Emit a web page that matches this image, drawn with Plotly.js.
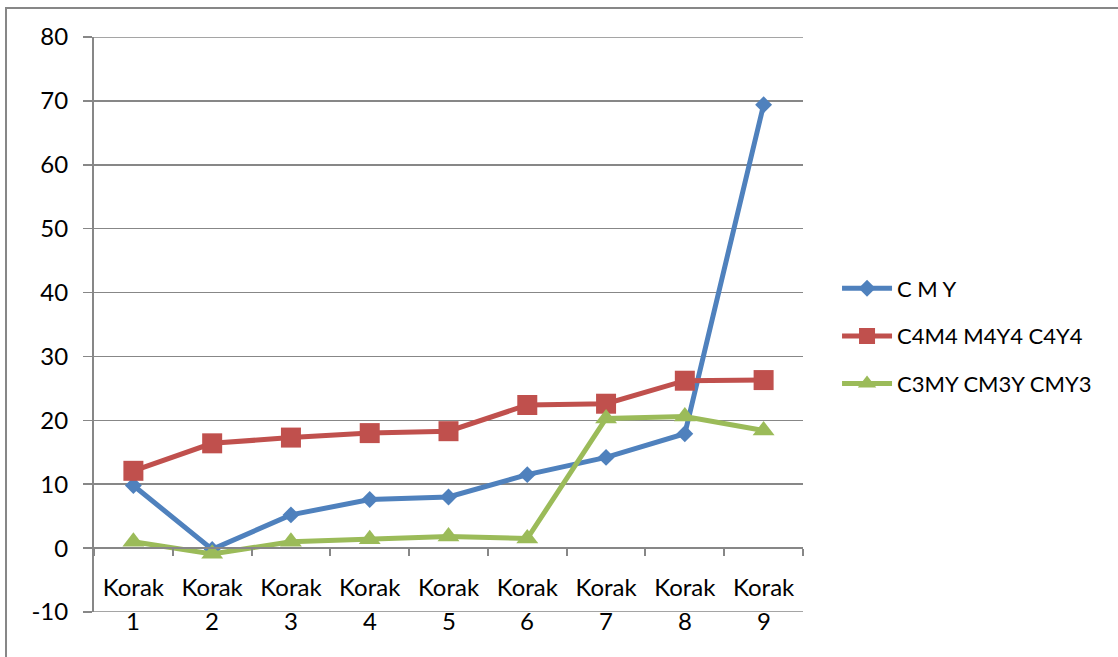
<!DOCTYPE html>
<html>
<head>
<meta charset="utf-8">
<script src="https://cdn.plot.ly/plotly-3.0.1.min.js"></script>
<style>
  html, body { margin: 0; padding: 0; background: #ffffff; }
  #chart { width: 1118px; height: 657px; }
</style>
</head>
<body>
<div id="chart"></div>
<script>
// ---- data ----
const categories = ["Korak 1", "Korak 2", "Korak 3", "Korak 4", "Korak 5", "Korak 6", "Korak 7", "Korak 8", "Korak 9"];
const labelWord = ["Korak", "Korak", "Korak", "Korak", "Korak", "Korak", "Korak", "Korak", "Korak"];
const stepNumbers = ["1", "2", "3", "4", "5", "6", "7", "8", "9"];
const seriesNames = ["C M Y", "C4M4 M4Y4 C4Y4", "C3MY CM3Y CMY3"];
const cmy = [9.8, -0.2, 5.2, 7.6, 8.0, 11.5, 14.2, 17.9, 69.4];
const c4m4 = [12.1, 16.4, 17.3, 18.0, 18.3, 22.4, 22.6, 26.2, 26.3];
const c3my = [1.0, -0.9, 1.0, 1.4, 1.8, 1.5, 20.3, 20.6, 18.4];
const yTickVals = [-10, 0, 10, 20, 30, 40, 50, 60, 70, 80];
const yTickText = ["-10", "0", "10", "20", "30", "40", "50", "60", "70", "80"];

const FONT = "Lato, 'Open Sans', sans-serif";
const GRID = "#878787";
const FS = 24;

function series(name, y, color, symbol, size, group) {
  return {
    type: "scatter", mode: "lines+markers", name: name, x: categories, y: y,
    line: { color: color, width: 5 },
    marker: { color: color, symbol: symbol, size: size, line: { width: 0 } },
    legendgroup: group,
    xaxis: "x", yaxis: "y"
  };
}

const traces = [
  series(seriesNames[0], cmy, "#4F81BD", "diamond", 13, "a"),
  series(seriesNames[1], c4m4, "#C0504D", "square", 20, "b"),
  series(seriesNames[2], c3my, "#9BBB59", "triangle-up", 19, "c")
];

const yMin = -10, yMax = 80;
const zeroPos = (0 - yMin) / (yMax - yMin);

const numberAnnotations = stepNumbers.map((t, i) => ({
  x: categories[i], xref: "x", y: 0, yref: "paper",
  text: t, showarrow: false, yanchor: "middle", yshift: -8,
  font: { family: FONT, size: FS, color: "#000000" }
}));

const edgeGridLines = [yMin, yMax].map(v => ({
  type: "line", xref: "paper", yref: "y", x0: 0, x1: 1, y0: v, y1: v,
  line: { color: GRID, width: 1.5 }, layer: "below"
}));

const layout = {
  width: 1118, height: 657,
  margin: { l: 94, r: 315, t: 37, b: 45 },
  paper_bgcolor: "#ffffff", plot_bgcolor: "#ffffff",
  font: { family: FONT, size: FS, color: "#000000" },
  showlegend: true,
  legend: {
    x: 1.048, xanchor: "left", y: 0.48, yanchor: "middle",
    font: { family: FONT, size: 22, color: "#000000" },
    traceorder: "grouped", tracegroupgap: 16, itemwidth: 50,
    bgcolor: "rgba(0,0,0,0)", borderwidth: 0
  },
  xaxis: {
    type: "category", anchor: "free", position: zeroPos,
    range: [-0.5, 8.5],
    showline: true, linecolor: GRID, linewidth: 2,
    showgrid: false, zeroline: false,
    ticks: "outside", tickson: "boundaries", ticklen: 7, tickwidth: 2, tickcolor: GRID,
    tickvals: categories, ticktext: labelWord,
    ticklabelstandoff: 18,
    tickfont: { family: FONT, size: FS, color: "#000000" },
    fixedrange: true
  },
  yaxis: {
    range: [yMin, yMax], tickvals: yTickVals, ticktext: yTickText,
    showgrid: true, gridcolor: GRID, gridwidth: 1.5,
    showline: true, linecolor: GRID, linewidth: 2,
    zeroline: false,
    ticks: "outside", ticklen: 9, tickwidth: 1.5, tickcolor: GRID,
    ticklabelstandoff: 10,
    tickfont: { family: FONT, size: FS, color: "#000000" },
    fixedrange: true
  },
  annotations: numberAnnotations,
  shapes: [{
    type: "rect", xref: "paper", yref: "paper",
    x0: -0.1241, x1: 1.45, y0: -0.09, y1: 1.0505,
    line: { color: GRID, width: 2 }, fillcolor: "rgba(0,0,0,0)", layer: "below"
  }].concat(edgeGridLines)
};

Plotly.newPlot("chart", traces, layout, { displayModeBar: false, staticPlot: true });
</script>
</body>
</html>
